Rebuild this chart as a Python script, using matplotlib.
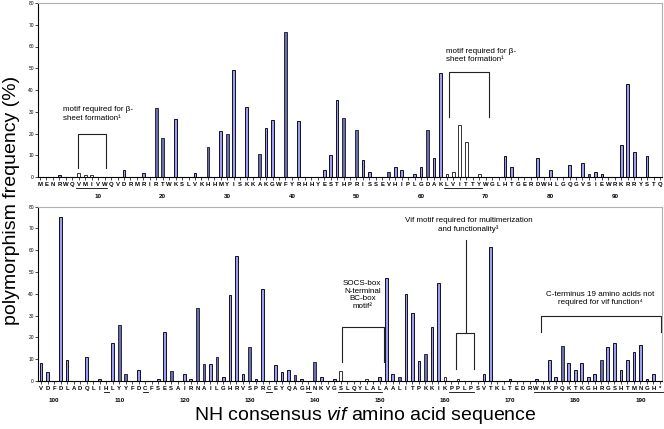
import numpy as np
import matplotlib
matplotlib.use("Agg")
import matplotlib.pyplot as plt
from matplotlib.transforms import blended_transform_factory

plt.rcParams['font.family'] = ['Liberation Sans', 'DejaVu Sans']
plt.rcParams['mathtext.fontset'] = 'custom'
plt.rcParams['mathtext.rm'] = 'Liberation Sans'
plt.rcParams['mathtext.it'] = 'Liberation Sans:italic'

# consensus sequence, residues 1-97 (top) and 98-192 + stop (bottom)
top_seq = list("MENRWQVMIVWQVDRMRIRTWKSLVKHHMYISKKAKGWFYRHHYESTHPRISSEVHIPLGDAKLVITTYWGLHTGERDWHLGQGVSIEWRKRRYSTQ")
bot_seq = list("VDFDLADQLIHLYYFDCFSESAIRNAILGHRVSPRCEYQAGHNKVGSLQYLALAALITPKKIKPPLPSVTKLTEDRWNKPQKTKGHRGSHTMNGH*")

# polymorphism frequency (%) per residue
top_vals = [0, 0, 0, 1, 0, 0, 2, 1, 1, 0,
            0, 0, 0, 3, 0, 0, 2, 0, 31.5, 18,
            0, 26.7, 0, 0, 2, 0, 13.7, 0, 21, 19.6,
            49, 0, 32.2, 0, 10.8, 22.3, 26.4, 0, 66.6, 0,
            25.8, 0, 0, 0, 3.2, 10.2, 35.2, 27.3, 0, 21.4,
            7.7, 2.3, 0, 0, 2.3, 4.5, 3.2, 0, 1.2, 4.5,
            21.8, 8.6, 47.6, 1.4, 2.3, 24.1, 16, 0, 1.2, 0,
            0, 0, 9.6, 4.5, 0, 0, 0, 8.6, 0, 3.2,
            0, 0, 5.3, 0, 6.4, 1.2, 2.3, 1.2, 0, 0,
            14.6, 42.8, 11.4, 0, 9.6, 0, 0]
# L = light blue, D = dark blue, W = white
top_cols = list("LLLLLLWWWLLLLLLLLLDDLLLLLLDLLDLLLLDLLLDLLLLLLLLDLDLLLLDLLLLLDLLWWWWWWLLLLLLLLLLLLLLLLDLLLDLLLDLL")

bot_vals = [8.1, 4.0, 0, 75.2, 9.5, 0, 0, 10.9, 0, 0.9,
            0, 17.6, 25.7, 3.1, 0, 5.1, 0, 0, 0.9, 22.4,
            4.6, 0, 3.1, 0.9, 33.4, 7.7, 7.7, 11, 2, 39.5,
            57.3, 3.1, 15.5, 0.9, 42, 0, 7.5, 4.0, 5.1, 2.9,
            0.9, 0, 8.7, 2.0, 0, 0.9, 4.6, 0, 0, 0,
            0.9, 0, 2.0, 47.2, 3.1, 2.0, 39.8, 31.1, 9.2, 12.3,
            24.7, 44.9, 2.0, 0, 0.8, 0, 0, 0, 3.2, 61.5,
            0, 0, 0.9, 0, 0, 0, 0.9, 0, 9.7, 2.0,
            16.1, 8.1, 5.1, 8.1, 2.0, 3.1, 9.5, 15.5, 17.6, 5.1,
            9.5, 13.5, 16.4, 0.9, 3.2, 0]
bot_cols = list("LLLLLLLLLLLLDDLLLLLLDLLLDDLDLLLLDLLLLLLDLLDLLLWWWWWWLLLDLLLDLLWWWWDLLLWLLLWLLLLLDLLLLLDLLLLLLL")

top_underline = [(7, 11), (64, 69)]
bot_underline = [(108, 108), (114, 114), (133, 133), (139, 139), (144, 150), (161, 164), (174, 193)]

fill = {'L': '#9c9ff0', 'D': '#6a6fa6', 'W': 'white'}
edge = {'L': '#111122', 'D': '#2a2a44', 'W': '#333333'}

fig = plt.figure(figsize=(6.64, 4.29), dpi=100)
ax1 = fig.add_axes([38/664, 1-177/429, 624/664, 174/429])
ax2 = fig.add_axes([38/664, 1-381/429, 624/664, 174.3/429])


def draw_panel(ax, start, seq, vals, cols, underline, xlim, ticks):
    x = np.arange(start, start + len(seq))
    n = len(vals)
    ax.bar(x[:n], vals, width=0.42, color=[fill[c] for c in cols[:n]],
           edgecolor=[edge[c] for c in cols[:n]], linewidth=0.7)
    ax.set_xlim(*xlim)
    ax.set_ylim(0, 80)
    ax.set_yticks(np.arange(0, 81, 10))
    ax.tick_params(axis='y', labelsize=3.5, length=2, width=0.5, pad=1)
    ax.set_xticks(x)
    ax.set_xticklabels(seq, fontsize=4.3, fontweight='bold')
    ax.tick_params(axis='x', length=2, width=0.5, pad=1.5)
    for s in ['top', 'right']:
        ax.spines[s].set_color('#b0b0b0')
        ax.spines[s].set_linewidth(0.8)
    for s in ['left', 'bottom']:
        ax.spines[s].set_linewidth(0.8)
    tr = blended_transform_factory(ax.transData, ax.transAxes)
    for t in ticks:
        ax.text(t, -0.095, str(t), transform=tr, ha='center', va='top', fontsize=4.5, fontweight='bold')
    for a, b in underline:
        ax.plot([a - 0.4, b + 0.4], [-0.063, -0.063], transform=tr, color='black', lw=0.6, clip_on=False)


draw_panel(ax1, 1, top_seq, top_vals, top_cols, top_underline, (0.69, 97.31), range(10, 91, 10))
draw_panel(ax2, 98, bot_seq, bot_vals, bot_cols, bot_underline, (97.54, 193.31), range(100, 191, 10))

# annotations, top panel
ax1.plot([6.9, 6.9, 11.2, 11.2], [4, 20, 20, 4], color='#222222', lw=0.8)
ax1.text(4.6, 29, "motif required for β-\nsheet formation¹", fontsize=5.8, ha='left', va='center', linespacing=1.25)
ax1.plot([64.3, 64.3, 70.5, 70.5], [27.5, 48.5, 48.5, 27.5], color='#222222', lw=0.8)
ax1.text(63.8, 56, "motif required for β-\nsheet formation¹", fontsize=5.8, ha='left', va='center', linespacing=1.25)

# annotations, bottom panel
ax2.plot([144.2, 144.2, 150.7, 150.7], [8.9, 24.7, 24.7, 8.9], color='#222222', lw=0.8)
ax2.text(147.3, 39.5, "SOCS-box\nN-terminal\nBC-box\nmotif²", fontsize=5.8, ha='center', va='center', linespacing=1.15)
ax2.plot([161.7, 161.7, 164.5, 164.5], [5.5, 21.9, 21.9, 5.5], color='#222222', lw=0.8)
ax2.plot([163.2, 163.2], [21.9, 64.8], color='#222222', lw=0.8)
ax2.text(163.6, 71.5, "Vif motif required for multimerization\nand functionality³", fontsize=5.8, ha='center', va='center', linespacing=1.25)
ax2.plot([174.7, 174.7, 193.2, 193.2], [22.5, 29.9, 29.9, 22.5], color='#222222', lw=0.8)
ax2.text(183.8, 38, "C-terminus 19 amino acids not\nrequired for vif function⁴", fontsize=5.8, ha='center', va='center', linespacing=1.25)

fig.text(12/664, 1-200/429, "polymorphism frequency (%)", rotation=90, fontsize=14, ha='center', va='center')
fig.text(365/664, 1-416/429, "NH consensus $\\mathit{vif}$ amino acid sequence", fontsize=14, ha='center', va='center')

fig.savefig('out.png', dpi=100)
